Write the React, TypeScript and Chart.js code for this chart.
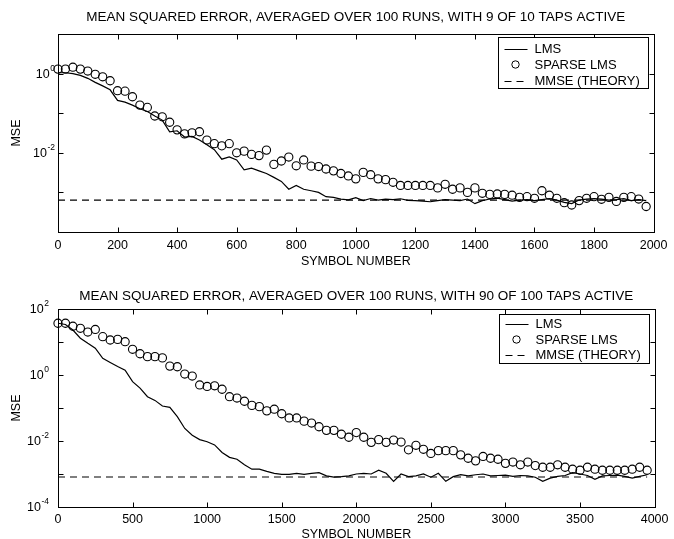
import React, { useEffect, useRef } from 'react';
import { Chart, registerables } from 'chart.js';

Chart.register(...registerables);

const FONT = '"Liberation Sans", Arial, Helvetica, sans-serif';

// ---------- top chart: 9 of 10 taps active ----------
const topTitle = 'MEAN SQUARED ERROR, AVERAGED OVER 100 RUNS, WITH 9 OF 10 TAPS ACTIVE';
const topSymbols = [0, 25, 50, 75, 100, 125, 150, 175, 200, 225, 250, 275, 300, 325, 350, 375, 400, 425, 450, 475, 500, 525, 550, 575, 600, 625, 650, 675, 700, 725, 750, 775, 800, 825, 850, 875, 900, 925, 950, 975, 1000, 1025, 1050, 1075, 1100, 1125, 1150, 1175, 1200, 1225, 1250, 1275, 1300, 1325, 1350, 1375, 1400, 1425, 1450, 1475, 1500, 1525, 1550, 1575, 1600, 1625, 1650, 1675, 1700, 1725, 1750, 1775, 1800, 1825, 1850, 1875, 1900, 1925, 1950, 1975];
const topLms = [1.05, 1.05, 1.0, 0.9, 0.76, 0.6, 0.49, 0.39, 0.21, 0.19, 0.16, 0.13, 0.11, 0.085, 0.067, 0.034, 0.036, 0.025, 0.026, 0.021, 0.016, 0.012, 0.0069, 0.0079, 0.0066, 0.0037, 0.0041, 0.0035, 0.003, 0.0024, 0.0019, 0.0012, 0.0015, 0.0012, 0.0011, 0.001, 0.00078, 0.00075, 0.00068, 0.00065, 0.00074, 0.00062, 0.0007, 0.00064, 0.00068, 0.00066, 0.00069, 0.00063, 0.00062, 0.0006, 0.00058, 0.00062, 0.00066, 0.00064, 0.00062, 0.00068, 0.00052, 0.00062, 0.00068, 0.00072, 0.00066, 0.0006, 0.00064, 0.00066, 0.00062, 0.00066, 0.0007, 0.00064, 0.00056, 0.00052, 0.00064, 0.00068, 0.0007, 0.00068, 0.00064, 0.00066, 0.0007, 0.00062, 0.00066, 0.00062];
const topSparse = [1.3, 1.3, 1.45, 1.3, 1.16, 0.96, 0.83, 0.66, 0.37, 0.36, 0.26, 0.16, 0.14, 0.085, 0.081, 0.059, 0.038, 0.03, 0.032, 0.034, 0.021, 0.017, 0.015, 0.017, 0.01, 0.011, 0.0091, 0.0085, 0.0117, 0.0051, 0.0062, 0.0078, 0.0047, 0.0066, 0.0046, 0.0045, 0.0039, 0.0035, 0.003, 0.0026, 0.0022, 0.0032, 0.0028, 0.0022, 0.0021, 0.0018, 0.0015, 0.0015, 0.0015, 0.0015, 0.0015, 0.0013, 0.0016, 0.0012, 0.0013, 0.001, 0.0013, 0.00095, 0.00089, 0.00091, 0.00089, 0.00085, 0.00075, 0.00078, 0.00071, 0.0011, 0.00085, 0.00071, 0.00055, 0.00048, 0.00062, 0.00071, 0.00078, 0.00067, 0.00075, 0.00059, 0.00075, 0.00078, 0.00068, 0.00044];
const topMmseSymbols = [0, 1975];
const topMmse = [0.00064, 0.00064];
const topXTicks = [0, 200, 400, 600, 800, 1000, 1200, 1400, 1600, 1800, 2000];
const topYDecades = [10, 1, 0.1, 0.01, 0.001, 0.0001];
const topYLabelValues = [1, 0.01];
const topYLabelExponents = ['0', '-2'];

// ---------- bottom chart: 90 of 100 taps active ----------
const bottomTitle = 'MEAN SQUARED ERROR, AVERAGED OVER 100 RUNS, WITH 90 OF 100 TAPS ACTIVE';
const bottomSymbols = [0, 50, 100, 150, 200, 250, 300, 350, 400, 450, 500, 550, 600, 650, 700, 750, 800, 850, 900, 950, 1000, 1050, 1100, 1150, 1200, 1250, 1300, 1350, 1400, 1450, 1500, 1550, 1600, 1650, 1700, 1750, 1800, 1850, 1900, 1950, 2000, 2050, 2100, 2150, 2200, 2250, 2300, 2350, 2400, 2450, 2500, 2550, 2600, 2650, 2700, 2750, 2800, 2850, 2900, 2950, 3000, 3050, 3100, 3150, 3200, 3250, 3300, 3350, 3400, 3450, 3500, 3550, 3600, 3650, 3700, 3750, 3800, 3850, 3900, 3950];
const bottomLms = [37, 34, 23, 13, 9.1, 6.5, 3.2, 2.4, 1.8, 1.4, 0.63, 0.4, 0.22, 0.17, 0.115, 0.105, 0.055, 0.024, 0.015, 0.011, 0.0095, 0.0076, 0.0045, 0.0032, 0.0028, 0.0019, 0.0014, 0.0014, 0.0012, 0.00105, 0.00098, 0.00097, 0.00105, 0.00097, 0.00105, 0.0011, 0.00088, 0.0008, 0.00083, 0.00088, 0.001, 0.00105, 0.001, 0.0013, 0.00105, 0.0006, 0.001, 0.00083, 0.00088, 0.001, 0.0008, 0.00105, 0.0006, 0.00083, 0.00095, 0.00088, 0.00095, 0.001, 0.00088, 0.0009, 0.00092, 0.00085, 0.0009, 0.00088, 0.0008, 0.0006, 0.00075, 0.00085, 0.0009, 0.0011, 0.001, 0.0009, 0.00069, 0.00088, 0.0009, 0.00092, 0.00085, 0.00075, 0.00085, 0.00095];
const bottomSparse = [37, 37, 30, 26, 20, 24, 14.5, 11.5, 12, 10.2, 6.0, 4.4, 3.6, 3.6, 3.3, 1.86, 1.78, 1.07, 0.93, 0.5, 0.45, 0.47, 0.37, 0.22, 0.2, 0.16, 0.12, 0.11, 0.082, 0.092, 0.067, 0.05, 0.05, 0.04, 0.035, 0.027, 0.021, 0.021, 0.016, 0.013, 0.018, 0.013, 0.0091, 0.011, 0.0091, 0.0107, 0.0093, 0.0054, 0.0074, 0.0056, 0.0042, 0.0051, 0.0051, 0.0051, 0.0038, 0.003, 0.0025, 0.0034, 0.003, 0.0028, 0.0021, 0.0023, 0.0019, 0.0023, 0.0018, 0.0016, 0.0016, 0.0019, 0.0016, 0.0014, 0.0013, 0.0016, 0.0014, 0.0013, 0.0013, 0.0013, 0.0013, 0.0014, 0.0016, 0.0013];
const bottomMmseSymbols = [0, 3950];
const bottomMmse = [0.00081, 0.00081];
const bottomXTicks = [0, 500, 1000, 1500, 2000, 2500, 3000, 3500, 4000];
const bottomYDecades = [100, 10, 1, 0.1, 0.01, 0.001, 0.0001];
const bottomYLabelValues = [100, 1, 0.01, 0.0001];
const bottomYLabelExponents = ['2', '0', '-2', '-4'];

const legendLabels = ['LMS', 'SPARSE LMS', 'MMSE (THEORY)'];
const xAxisTitle = 'SYMBOL NUMBER';
const yAxisTitle = 'MSE';

type Layout = {
  height: number;
  topAxisHeight: number;
  titlePadTop: number;
  xAxisHeight: number;
  tickPad: number;
  xTitlePadBottom: number;
  labelGap: number;
  legendTop: number;
  legendHeight: number;
  legendRows: number[];
};

type Spec = {
  title: string;
  symbols: number[];
  lms: number[];
  sparse: number[];
  mmseSymbols: number[];
  mmse: number[];
  xTicks: number[];
  yDecades: number[];
  yLabelValues: number[];
  yLabelExponents: string[];
  layout: Layout;
};

const zip = (xs: number[], ys: number[]) => xs.map((x, i) => ({ x, y: ys[i] }));

function makeConfig(spec: Spec): any {
  const L = spec.layout;
  const xMin = spec.xTicks[0];
  const xMax = spec.xTicks[spec.xTicks.length - 1];
  const yMin = spec.yDecades[spec.yDecades.length - 1];
  const yMax = spec.yDecades[0];

  const framePlugin = {
    id: 'frame',
    afterDatasetsDraw(chart: any) {
      const { ctx, chartArea } = chart;
      const xs = chart.scales.x;
      const ys = chart.scales.y;
      const l = Math.round(chartArea.left) + 0.5;
      const r = Math.round(chartArea.right) + 0.5;
      const t = Math.round(chartArea.top) + 0.5;
      const b = Math.round(chartArea.bottom) + 0.5;
      ctx.save();
      ctx.strokeStyle = '#000';
      ctx.lineWidth = 1;
      ctx.setLineDash([]);
      ctx.strokeRect(l, t, r - l, b - t);
      const tl = 5;
      ctx.beginPath();
      spec.xTicks.forEach((v) => {
        const px = Math.round(xs.getPixelForValue(v)) + 0.5;
        ctx.moveTo(px, b);
        ctx.lineTo(px, b - tl);
        ctx.moveTo(px, t);
        ctx.lineTo(px, t + tl);
      });
      spec.yDecades.forEach((v) => {
        const py = Math.round(ys.getPixelForValue(v)) + 0.5;
        ctx.moveTo(l, py);
        ctx.lineTo(l + tl, py);
        ctx.moveTo(r, py);
        ctx.lineTo(r - tl, py);
      });
      ctx.stroke();
      // y tick labels: 10 with superscript exponent
      ctx.fillStyle = '#000';
      ctx.textBaseline = 'middle';
      spec.yLabelValues.forEach((v, i) => {
        const py = ys.getPixelForValue(v);
        const exp = spec.yLabelExponents[i];
        const R = chartArea.left - L.labelGap;
        ctx.font = `8.5px ${FONT}`;
        const ew = ctx.measureText(exp).width;
        ctx.textAlign = 'left';
        ctx.fillText(exp, R - ew, py - 5);
        ctx.font = `12.5px ${FONT}`;
        ctx.textAlign = 'right';
        ctx.fillText('10', R - ew - 0.5, py + 1);
      });
      ctx.restore();
    },
  };

  const legendPlugin = {
    id: 'boxLegend',
    afterDraw(chart: any) {
      const { ctx, chartArea } = chart;
      const w = 150;
      const h = L.legendHeight;
      const bx = Math.round(chartArea.right - 6 - w) + 0.5;
      const by = Math.round(chartArea.top + L.legendTop) + 0.5;
      ctx.save();
      ctx.fillStyle = '#fff';
      ctx.fillRect(bx, by, w, h);
      ctx.strokeStyle = '#000';
      ctx.lineWidth = 1;
      ctx.strokeRect(bx, by, w, h);
      ctx.font = `13px ${FONT}`;
      ctx.textBaseline = 'middle';
      ctx.textAlign = 'left';
      chart.data.datasets.forEach((ds: any, i: number) => {
        const y = by + L.legendRows[i];
        ctx.strokeStyle = '#000';
        ctx.lineWidth = 1;
        if (ds.showLine === false) {
          ctx.setLineDash([]);
          ctx.beginPath();
          ctx.arc(bx + 17, y, 3.7, 0, Math.PI * 2);
          ctx.stroke();
        } else {
          ctx.setLineDash(ds.borderDash || []);
          ctx.beginPath();
          ctx.moveTo(bx + 6, Math.round(y) + 0.5);
          ctx.lineTo(bx + 29, Math.round(y) + 0.5);
          ctx.stroke();
        }
        ctx.setLineDash([]);
        ctx.fillStyle = '#000';
        ctx.fillText(ds.label, bx + 36, y + 0.5);
      });
      ctx.restore();
    },
  };

  return {
    type: 'line',
    data: {
      datasets: [
        {
          label: legendLabels[0],
          data: zip(spec.symbols, spec.lms),
          borderColor: '#000',
          borderWidth: 1.2,
          pointRadius: 0,
          tension: 0,
          xAxisID: 'x',
          yAxisID: 'y',
        },
        {
          label: legendLabels[1],
          data: zip(spec.symbols, spec.sparse),
          showLine: false,
          borderColor: '#000',
          backgroundColor: 'rgba(0,0,0,0)',
          pointRadius: 4.1,
          pointBorderWidth: 1.1,
          pointBackgroundColor: 'rgba(0,0,0,0)',
          pointBorderColor: '#000',
          clip: false,
          xAxisID: 'x',
          yAxisID: 'y',
        },
        {
          label: legendLabels[2],
          data: zip(spec.mmseSymbols, spec.mmse),
          borderColor: '#000',
          borderWidth: 1.1,
          borderDash: [7, 5],
          pointRadius: 0,
          xAxisID: 'x',
          yAxisID: 'y',
        },
      ],
    },
    options: {
      responsive: false,
      animation: false,
      devicePixelRatio: 1,
      layout: { padding: { left: 0, right: 16, top: 0, bottom: 0 } },
      plugins: {
        legend: { display: false },
        tooltip: { enabled: false },
        title: { display: false },
      },
      scales: {
        x: {
          type: 'linear',
          position: 'bottom',
          min: xMin,
          max: xMax,
          afterBuildTicks: (s: any) => {
            s.ticks = spec.xTicks.map((v) => ({ value: v }));
          },
          afterFit: (s: any) => {
            s.height = L.xAxisHeight;
          },
          grid: { display: false, drawTicks: false },
          border: { display: false },
          ticks: {
            autoSkip: false,
            maxRotation: 0,
            padding: L.tickPad,
            color: '#000',
            font: { family: FONT, size: 12.5 },
            callback: (v: any) => String(v),
          },
          title: {
            display: true,
            text: xAxisTitle,
            color: '#000',
            font: { family: FONT, size: 12.5 },
            padding: { top: 0, bottom: L.xTitlePadBottom },
          },
        },
        xTop: {
          type: 'linear',
          position: 'top',
          min: xMin,
          max: xMax,
          afterFit: (s: any) => {
            s.height = L.topAxisHeight;
          },
          grid: { display: false, drawTicks: false },
          border: { display: false },
          ticks: { display: false },
          title: {
            display: true,
            text: spec.title,
            color: '#000',
            font: { family: FONT, size: 13.5 },
            padding: { top: L.titlePadTop, bottom: 0 },
          },
        },
        y: {
          type: 'logarithmic',
          position: 'left',
          min: yMin,
          max: yMax,
          afterBuildTicks: (s: any) => {
            s.ticks = spec.yDecades.map((v) => ({ value: v }));
          },
          afterFit: (s: any) => {
            s.width = 58;
          },
          grid: { display: false, drawTicks: false },
          border: { display: false },
          ticks: { display: false },
          title: {
            display: true,
            text: yAxisTitle,
            color: '#000',
            font: { family: FONT, size: 12.5 },
            padding: { top: 9.5, bottom: 0 },
          },
        },
      },
    },
    plugins: [framePlugin, legendPlugin],
  };
}

const topSpec: Spec = {
  title: topTitle,
  symbols: topSymbols,
  lms: topLms,
  sparse: topSparse,
  mmseSymbols: topMmseSymbols,
  mmse: topMmse,
  xTicks: topXTicks,
  yDecades: topYDecades,
  yLabelValues: topYLabelValues,
  yLabelExponents: topYLabelExponents,
  layout: {
    height: 270,
    topAxisHeight: 34,
    titlePadTop: 8.9,
    xAxisHeight: 38,
    tickPad: 6.5,
    xTitlePadBottom: 0.5,
    labelGap: 3,
    legendTop: 3,
    legendHeight: 51,
    legendRows: [11, 27, 43],
  },
};

const bottomSpec: Spec = {
  title: bottomTitle,
  symbols: bottomSymbols,
  lms: bottomLms,
  sparse: bottomSparse,
  mmseSymbols: bottomMmseSymbols,
  mmse: bottomMmse,
  xTicks: bottomXTicks,
  yDecades: bottomYDecades,
  yLabelValues: bottomYLabelValues,
  yLabelExponents: bottomYLabelExponents,
  layout: {
    height: 272,
    topAxisHeight: 39,
    titlePadTop: 17.9,
    xAxisHeight: 35,
    tickPad: 5.5,
    xTitlePadBottom: 0,
    labelGap: 9,
    legendTop: 5,
    legendHeight: 49,
    legendRows: [9.5, 25, 40.5],
  },
};

function MseChart({ spec, top }: { spec: Spec; top: number }) {
  const ref = useRef<HTMLCanvasElement | null>(null);
  useEffect(() => {
    if (!ref.current) return;
    const chart = new Chart(ref.current, makeConfig(spec));
    return () => chart.destroy();
  }, [spec]);
  return (
    <canvas
      ref={ref}
      width={674}
      height={spec.layout.height}
      style={{ position: 'absolute', left: 0, top, width: 674, height: spec.layout.height, display: 'block' }}
    />
  );
}

export default function App() {
  return (
    <div
      style={{
        position: 'fixed',
        left: 0,
        top: 0,
        width: 674,
        height: 539,
        overflow: 'hidden',
        background: '#fff',
      }}
    >
      <MseChart spec={topSpec} top={0} />
      <MseChart spec={bottomSpec} top={270} />
    </div>
  );
}
